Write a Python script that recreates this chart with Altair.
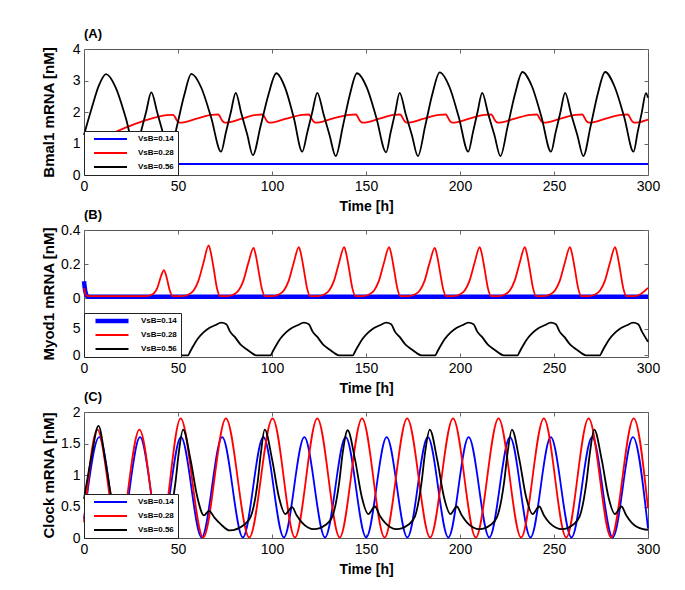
import altair as alt
import pandas as pd

FONT = "Liberation Sans, Arial, Helvetica, sans-serif"
SERIES = ["VsB=0.14", "VsB=0.28", "VsB=0.56"]
COLORS = ["#0000ff", "#ff0000", "#000000"]
B_WIDTHS = [4.5, 1.8, 1.8]
X_TICKS = [0, 50, 100, 150, 200, 250, 300]
A_Y_TICKS = [0, 1, 2, 3, 4]
C_Y_TICKS = [0, 0.5, 1, 1.5, 2]

# ---------------- Panel A: Bmal1 mRNA ----------------
A_BLUE_T = [0, 300]
A_BLUE_V = [0.35, 0.35]

A_RED_T = [15, 24.5, 33.4, 44.0, 47.4, 49.6, 51.0, 53.0, 60.0,
           68.0, 71.4, 73.6, 75.0, 77.0, 84.0,
           91.6, 95.0, 97.2, 98.6, 100.6, 107.6,
           116.2, 119.6, 121.8, 123.2, 125.2, 132.2,
           141.2, 144.6, 146.8, 148.2, 150.2, 157.2,
           164.8, 168.2, 170.4, 171.8, 173.8, 180.8,
           189.0, 192.4, 194.6, 196.0, 198.0, 205.0,
           213.2, 216.6, 218.8, 220.2, 222.2, 229.2,
           237.5, 240.9, 243.1, 244.5, 246.5, 253.5,
           261.6, 265.0, 267.2, 268.6, 270.6, 277.6,
           285.8, 289.2, 291.4, 292.8, 294.8, 300.0]
A_RED_V = [1.32, 1.56, 1.75, 1.90, 1.91, 1.72, 1.66, 1.67, 1.79,
           1.91, 1.92, 1.72, 1.66, 1.67, 1.79,
           1.91, 1.92, 1.72, 1.66, 1.67, 1.79,
           1.91, 1.92, 1.72, 1.66, 1.67, 1.79,
           1.91, 1.92, 1.72, 1.66, 1.67, 1.79,
           1.91, 1.92, 1.72, 1.66, 1.67, 1.79,
           1.91, 1.92, 1.72, 1.66, 1.67, 1.79,
           1.91, 1.92, 1.72, 1.66, 1.67, 1.79,
           1.91, 1.92, 1.72, 1.66, 1.67, 1.79,
           1.91, 1.92, 1.72, 1.66, 1.67, 1.79,
           1.91, 1.92, 1.72, 1.66, 1.67, 1.76]

A_BLACK_T = [0, 4, 8, 11.7, 17.0, 22.2, 27.5, 30.3, 33.0, 35.8, 39.1, 42.3,
             45.6, 49.4, 53.3, 57.1, 62.4, 67.6, 72.9, 75.5, 78.1, 80.7, 83.7, 86.8,
             89.8, 94.0, 98.1, 102.3, 106.9, 111.5, 116.1, 118.8, 121.4, 124.1, 127.4, 130.6,
             133.9, 137.7, 141.4, 145.2, 150.4, 155.5, 160.7, 163.1, 165.5, 167.9, 171.1, 174.4,
             177.6, 181.5, 185.3, 189.2, 194.3, 199.3, 204.4, 206.9, 209.3, 211.8, 215.0, 218.3,
             221.5, 225.4, 229.3, 233.2, 238.3, 243.3, 248.4, 250.9, 253.4, 255.9, 259.1, 262.4,
             265.6, 269.5, 273.3, 277.2, 282.2, 287.3, 292.3, 294.5, 296.7, 298.9, 300]
A_BLACK_V = [1.27, 2.10, 2.85, 3.20, 2.76, 1.82, 0.74, 1.37, 1.99, 2.62, 1.95, 1.27,
             0.60, 1.54, 2.53, 3.21, 2.77, 1.83, 0.74, 1.36, 1.99, 2.61, 1.95, 1.29,
             0.63, 1.57, 2.55, 3.23, 2.78, 1.84, 0.74, 1.36, 1.99, 2.61, 1.94, 1.27,
             0.60, 1.55, 2.55, 3.23, 2.78, 1.82, 0.72, 1.35, 1.98, 2.61, 1.94, 1.27,
             0.60, 1.56, 2.57, 3.26, 2.81, 1.85, 0.74, 1.36, 1.99, 2.61, 1.94, 1.27,
             0.60, 1.56, 2.58, 3.27, 2.81, 1.85, 0.74, 1.36, 1.99, 2.61, 1.94, 1.27,
             0.60, 1.56, 2.58, 3.27, 2.81, 1.85, 0.74, 1.36, 1.99, 2.60, 2.45]

# ---------------- Panel B: Myod1 mRNA ----------------
B_BLUE_T = [0, 0.7, 2, 300]
B_BLUE_V = [0.1, 0.04, 0.008, 0.008]

B_RED_T = [0, 1, 2.5, 33,
           36, 39, 41, 42.5, 44, 45.5, 47.3,
           52.3, 55.3, 58.3, 60.8, 63.6, 66.3, 67.6, 68.9, 70.7, 72.3,
           76.2, 79.2, 82.2, 84.7, 87.5, 90.2, 91.5, 92.8, 94.6, 96.2,
           100.3, 103.3, 106.3, 108.8, 111.6, 114.3, 115.6, 116.9, 118.7, 120.3,
           124.4, 127.4, 130.4, 132.9, 135.7, 138.4, 139.7, 141.0, 142.8, 144.4,
           148.3, 151.3, 154.3, 156.8, 159.6, 162.3, 163.6, 164.9, 166.7, 168.3,
           172.6, 175.6, 178.6, 181.1, 183.9, 186.6, 187.9, 189.2, 191.0, 192.6,
           196.5, 199.5, 202.5, 205.0, 207.8, 210.5, 211.8, 213.1, 214.9, 216.5,
           220.5, 223.5, 226.5, 229.0, 231.8, 234.5, 235.8, 237.1, 238.9, 240.5,
           244.5, 247.5, 250.5, 253.0, 255.8, 258.5, 259.8, 261.1, 262.9, 264.5,
           268.5, 271.5, 274.5, 277.0, 279.8, 282.5, 283.8, 285.1, 286.9, 288.5,
           292.5, 295.5, 298.5, 300]
B_RED_V = [0.06, 0.02, 0.012, 0.012,
           0.02, 0.06, 0.13, 0.165, 0.12, 0.05, 0.012,
           0.012, 0.02, 0.045, 0.10, 0.21, 0.31, 0.26, 0.18, 0.06, 0.012,
           0.012, 0.02, 0.045, 0.10, 0.21, 0.295, 0.245, 0.165, 0.056, 0.012,
           0.012, 0.02, 0.045, 0.10, 0.21, 0.30, 0.25, 0.17, 0.056, 0.012,
           0.012, 0.02, 0.045, 0.10, 0.21, 0.30, 0.25, 0.17, 0.056, 0.012,
           0.012, 0.02, 0.045, 0.10, 0.21, 0.30, 0.25, 0.17, 0.056, 0.012,
           0.012, 0.02, 0.045, 0.10, 0.21, 0.295, 0.245, 0.165, 0.056, 0.012,
           0.012, 0.02, 0.045, 0.10, 0.21, 0.30, 0.25, 0.17, 0.056, 0.012,
           0.012, 0.02, 0.045, 0.10, 0.21, 0.30, 0.25, 0.17, 0.056, 0.012,
           0.012, 0.02, 0.045, 0.10, 0.21, 0.30, 0.25, 0.17, 0.056, 0.012,
           0.012, 0.02, 0.045, 0.10, 0.21, 0.30, 0.25, 0.17, 0.056, 0.012,
           0.012, 0.02, 0.045, 0.06]

# lower inset (same panel, own 0..6 scale)
B_BLACK_T = [47, 55.2, 56.7, 58.2, 60.5, 63.7, 66.8, 69.7, 73.0, 75.7, 77.7, 80.2, 83.2, 85.2, 87.2, 89.7, 91.7,
             99.1, 100.6, 102.1, 104.4, 107.6, 110.7, 113.6, 116.9, 119.6, 121.6, 124.1, 127.1, 129.1, 131.1, 133.6, 135.6,
             142.9, 144.4, 145.9, 148.2, 151.4, 154.5, 157.4, 160.7, 163.4, 165.4, 167.9, 170.9, 172.9, 174.9, 177.4, 179.4,
             186.7, 188.2, 189.7, 192.0, 195.2, 198.3, 201.2, 204.5, 207.2, 209.2, 211.7, 214.7, 216.7, 218.7, 221.2, 223.2,
             230.5, 232.0, 233.5, 235.8, 239.0, 242.1, 245.0, 248.3, 251.0, 253.0, 255.5, 258.5, 260.5, 262.5, 265.0, 267.0,
             274.3, 275.8, 277.3, 279.6, 282.8, 285.9, 288.8, 292.1, 294.8, 296.8, 300]
B_BLACK_V = [0.02, 0.02, 0.9, 1.85, 3.15, 4.4, 5.24, 5.7, 6.2, 5.9, 4.5, 3.5, 2.1, 1.5, 1.0, 0.35, 0.02,
             0.02, 0.9, 1.85, 3.15, 4.4, 5.24, 5.7, 6.2, 5.9, 4.5, 3.5, 2.1, 1.5, 1.0, 0.35, 0.02,
             0.02, 0.9, 1.85, 3.15, 4.4, 5.24, 5.7, 6.2, 5.9, 4.5, 3.5, 2.1, 1.5, 1.0, 0.35, 0.02,
             0.02, 0.9, 1.85, 3.15, 4.4, 5.24, 5.7, 6.2, 5.9, 4.5, 3.5, 2.1, 1.5, 1.0, 0.35, 0.02,
             0.02, 0.9, 1.85, 3.15, 4.4, 5.24, 5.7, 6.2, 5.9, 4.5, 3.5, 2.1, 1.5, 1.0, 0.35, 0.02,
             0.02, 0.9, 1.85, 3.15, 4.4, 5.24, 5.7, 6.2, 5.9, 4.5, 2.6]

# ---------------- Panel C: Clock mRNA ----------------
C_BLUE_T = [0, 8.1, 19.0, 29.8, 40.7, 51.6, 62.6, 73.5, 84.5, 95.4, 106.3, 117.2, 128.2, 139.2,
            150.1, 161.0, 172.0, 182.9, 193.8, 204.6, 215.6, 226.6, 237.5, 248.3, 259.3, 270.3,
            281.2, 292.0, 300]
C_BLUE_V = [0.3, 1.6, 0.01, 1.6, 0.01, 1.6, 0.01, 1.6, 0.01, 1.6, 0.01, 1.6, 0.01, 1.6,
            0.01, 1.6, 0.01, 1.6, 0.01, 1.6, 0.01, 1.6, 0.01, 1.6, 0.01, 1.6,
            0.01, 1.6, 0.15]

C_RED_T = [0, 7.1, 18.3, 29.5, 40.5, 51.4, 63.4, 75.5, 87.9, 100.3, 112.2, 124.1, 136.0,
           147.9, 159.9, 171.9, 184.1, 196.3, 208.4, 220.5, 232.5, 244.6, 256.5, 268.4,
           280.4, 292.4, 300]
C_RED_V = [0.25, 1.72, 0.01, 1.72, 0.01, 1.9, 0.01, 1.9, 0.01, 1.9, 0.01, 1.9, 0.01,
           1.9, 0.01, 1.9, 0.01, 1.9, 0.01, 1.9, 0.01, 1.9, 0.01, 1.9,
           0.01, 1.9, 0.47]

C_BLACK_T = [0, 4, 7.7, 11.5, 14.8, 18.5, 21.5, 25, 32, 38, 42, 45, 48.6, 50.4, 52.7,
             56.7, 60.2, 63.8, 66.5, 69.5, 72.7, 77.5, 85.2, 88.7, 92.3, 94.1, 96.1,
             100.1, 103.6, 107.1, 110.7, 113.1, 116.1, 122.3, 128.6, 132.1, 135.7, 137.6, 140.2,
             144.2, 147.7, 151.2, 154.8, 157.2, 160.2, 166.3, 172.5, 176.0, 179.5, 181.4, 183.9,
             187.9, 191.4, 194.9, 198.3, 200.9, 203.9, 210.3, 216.4, 219.8, 223.4, 225.3, 227.6,
             231.6, 235.1, 238.6, 242.2, 244.6, 247.6, 254.3, 260.1, 263.6, 267.2, 269.1, 271.4,
             275.4, 278.9, 282.4, 285.9, 288.4, 291.4, 297.4, 300]
C_BLACK_V = [0.62, 1.3, 1.78, 1.2, 0.62, 0.4, 0.45, 0.3, 0.15, 0.2, 0.28, 0.34, 0.87, 1.35, 1.72,
             1.24, 0.66, 0.36, 0.43, 0.32, 0.22, 0.12, 0.21, 0.34, 0.87, 1.35, 1.72,
             1.24, 0.66, 0.38, 0.49, 0.36, 0.24, 0.14, 0.21, 0.34, 0.87, 1.35, 1.71,
             1.24, 0.66, 0.38, 0.50, 0.36, 0.24, 0.14, 0.21, 0.34, 0.87, 1.35, 1.72,
             1.24, 0.66, 0.38, 0.50, 0.36, 0.24, 0.14, 0.21, 0.34, 0.87, 1.35, 1.72,
             1.24, 0.66, 0.38, 0.50, 0.36, 0.24, 0.14, 0.21, 0.34, 0.87, 1.35, 1.72,
             1.24, 0.66, 0.38, 0.50, 0.36, 0.24, 0.14, 0.13]

# inset geometry of panel B (upper axis units)
B_LOW0 = -0.3361
B_LOWK = 0.0311
B_BOTTOM = -0.345
B_Y_TICKS = [B_LOW0, B_LOW0 + 5 * B_LOWK, 0, 0.2, 0.4]

W = 564
XSCALE = alt.Scale(domain=[0, 300], nice=False, zero=False)


def table(parts):
    rows = []
    for k, (name, ts, vs) in parts:
        for t, v in zip(ts, vs):
            rows.append({"s": name, "k": k, "t": t, "v": v})
    return pd.DataFrame(rows)


def legend(label_expr=None):
    kw = dict(title=None, orient="bottom-left", offset=0, padding=4,
              fillColor="white", strokeColor="#222", symbolType="stroke",
              symbolSize=1089, symbolOffset=5, labelOffset=10,
              symbolStrokeWidth=1.8,
              labelFont=FONT, labelFontSize=8, labelFontWeight="bold",
              labelColor="black", clipHeight=8, rowPadding=6)
    if label_expr:
        kw["labelExpr"] = label_expr
    return alt.Legend(**kw)


def color_enc(leg):
    return alt.Color("s:N", scale=alt.Scale(domain=SERIES, range=COLORS), legend=leg)


def xenc():
    return alt.X("t:Q", scale=XSCALE,
                 axis=alt.Axis(orient="bottom", values=X_TICKS, format="d", title="Time [h]",
                               offset=-4, tickSize=4, labelPadding=4, titlePadding=6,
                               titleFontSize=14, labelFlush=False))


def y_axis(title, values, height, fmt="~g", label_expr=None):
    kw = dict(orient="left", values=values, title=title, offset=-4, tickSize=4, labelPadding=4,
              titleX=-32, titleY=height / 2, titleFontSize=15, labelFlush=False, format=fmt)
    if label_expr:
        kw["labelExpr"] = label_expr
    return alt.Axis(**kw)


def frame_ticks(df, yfield, yscale, yvals):
    # invisible layer that only carries the inward ticks on the top and right edges
    return alt.Chart(df).mark_line(opacity=0).encode(
        x=alt.X("t:Q", scale=XSCALE,
                axis=alt.Axis(orient="top", values=X_TICKS, labels=False, title=None,
                              offset=-4, tickSize=4)),
        y=alt.Y(f"{yfield}:Q", scale=yscale,
                axis=alt.Axis(orient="right", values=yvals, labels=False, title=None,
                              offset=-4, tickSize=4)),
        detail="s:N",
    )


def title(txt):
    return alt.TitleParams(txt, anchor="start", frame="group", fontSize=13, fontWeight="bold",
                           font=FONT, color="black", offset=1)


# ---- Panel A
HA = 126
dfA = table(enumerate([(SERIES[0], A_BLUE_T, A_BLUE_V), (SERIES[1], A_RED_T, A_RED_V),
                       (SERIES[2], A_BLACK_T, A_BLACK_V)]))
ysA = alt.Scale(domain=[0, 4], nice=False, zero=False)
linesA = alt.Chart(dfA).mark_line(strokeWidth=1.8, interpolate="monotone").encode(
    x=xenc(),
    y=alt.Y("v:Q", scale=ysA, axis=y_axis("Bmal1 mRNA [nM]", A_Y_TICKS, HA, fmt="d")),
    color=color_enc(legend()),
)
panelA = alt.layer(linesA, frame_ticks(dfA, "v", ysA, A_Y_TICKS)).resolve_axis(
    x="independent", y="independent").properties(width=W, height=HA, title=title("(A)"))

# ---- Panel B (series index k drives colour and line width through threshold scales,
#      so that one legend carries both)
HB = 127
dfB_up = table([(0, (SERIES[0], B_BLUE_T, B_BLUE_V)), (1, (SERIES[1], B_RED_T, B_RED_V))])
dfB_low = table([(2, (SERIES[2], B_BLACK_T, B_BLACK_V))])
ysB = alt.Scale(domain=[B_BOTTOM, 0.4], nice=False, zero=False)
b_label = ("datum.value < -0.3 ? '0' : (datum.value < -0.1 ? '5' : "
           "(abs(datum.value) < 0.001 ? '0' : format(datum.value, '.1f')))")
yB_axis = y_axis("Myod1 mRNA [nM]", B_Y_TICKS, HB, fmt=".2f", label_expr=b_label)
legB = legend("datum.index == 0 ? 'VsB=0.14' : (datum.index == 1 ? 'VsB=0.28' : 'VsB=0.56')")
colB = alt.Color("k:Q", scale=alt.Scale(type="threshold", domain=[0.5, 1.5], range=COLORS),
                 legend=legB)
swB = alt.StrokeWidth("k:Q", scale=alt.Scale(type="threshold", domain=[0.5, 1.5],
                                             range=B_WIDTHS), legend=legB)
upB = alt.Chart(dfB_up).transform_calculate(u="datum.v").mark_line(
    interpolate="monotone").encode(
    x=xenc(),
    y=alt.Y("u:Q", scale=ysB, axis=yB_axis),
    color=colB,
    strokeWidth=swB,
    detail="s:N",
)
lowB = alt.Chart(dfB_low).transform_calculate(
    u=f"{B_LOW0} + datum.v * {B_LOWK}").mark_line(interpolate="monotone").encode(
    x=xenc(),
    y=alt.Y("u:Q", scale=ysB, axis=yB_axis),
    color=colB,
    strokeWidth=swB,
    detail="s:N",
)
tickB = frame_ticks(dfB_up.assign(u=dfB_up["v"]), "u", ysB, B_Y_TICKS)
panelB = alt.layer(alt.layer(upB, lowB), tickB).resolve_axis(
    x="independent", y="independent").properties(width=W, height=HB, title=title("(B)"))

# ---- Panel C
HC = 126
dfC = table(enumerate([(SERIES[0], C_BLUE_T, C_BLUE_V), (SERIES[1], C_RED_T, C_RED_V),
                       (SERIES[2], C_BLACK_T, C_BLACK_V)]))
ysC = alt.Scale(domain=[0, 2], nice=False, zero=False)
linesC = alt.Chart(dfC).mark_line(strokeWidth=1.8, interpolate="monotone").encode(
    x=xenc(),
    y=alt.Y("v:Q", scale=ysC, axis=y_axis("Clock mRNA [nM]", C_Y_TICKS, HC)),
    color=color_enc(legend()),
)
panelC = alt.layer(linesC, frame_ticks(dfC, "v", ysC, C_Y_TICKS)).resolve_axis(
    x="independent", y="independent").properties(width=W, height=HC, title=title("(C)"))

chart = alt.vconcat(panelA, panelB, panelC, spacing=-6).resolve_scale(
    color="independent", strokeWidth="independent").resolve_legend(
    color="independent", strokeWidth="independent").properties(
    padding={"left": 32, "top": 19, "right": 5, "bottom": 5}
).configure_view(stroke="#555", strokeWidth=1).configure_axis(
    labelFont=FONT, labelFontSize=14, labelColor="black", titleFont=FONT,
    titleFontWeight="bold", titleColor="black", tickColor="#666", grid=False, domain=False
)

chart.save("out.html", embed_options={"renderer": "svg", "actions": False})
